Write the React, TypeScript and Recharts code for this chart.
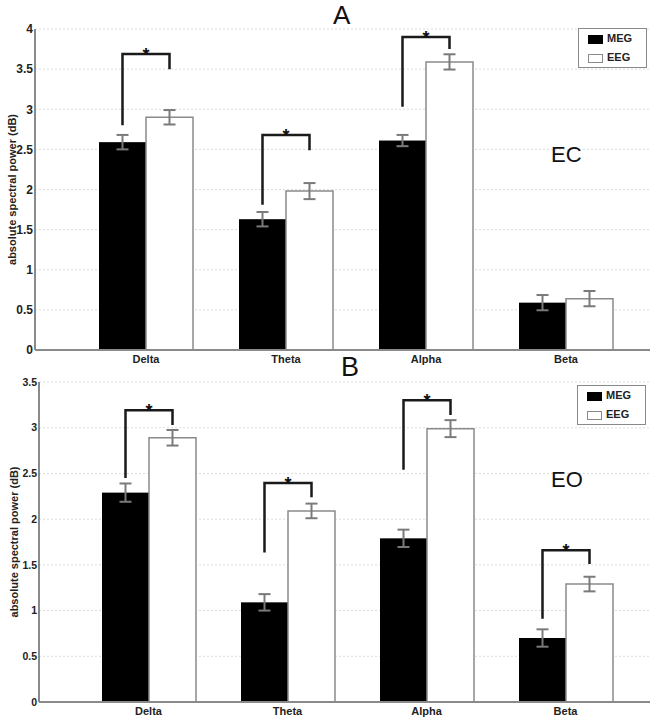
import { BarChart, Bar, XAxis, YAxis, CartesianGrid, ErrorBar, Legend } from 'recharts'

const bands = ['Delta', 'Theta', 'Alpha', 'Beta']
const seriesOrder = ['MEG', 'EEG']

// panel A, eyes closed
const ecMeg = [2.59, 1.63, 2.61, 0.59]
const ecEeg = [2.9, 1.98, 3.59, 0.64]
const ecMegErr = [0.09, 0.09, 0.07, 0.095]
const ecEegErr = [0.09, 0.1, 0.095, 0.095]
const ecSigTop = [3.69, 2.68, 3.9, null]
const ecSigLeft = [2.8, 1.81, 3.03, null]
const ecSigRight = [3.5, 2.49, 3.75, null]
const ecTicks = [0, 0.5, 1, 1.5, 2, 2.5, 3, 3.5, 4]

// panel B, eyes open
const eoMeg = [2.29, 1.09, 1.79, 0.7]
const eoEeg = [2.89, 2.09, 2.99, 1.29]
const eoMegErr = [0.1, 0.09, 0.095, 0.095]
const eoEegErr = [0.085, 0.08, 0.093, 0.08]
const eoSigTop = [3.19, 2.395, 3.3, 1.66]
const eoSigLeft = [2.45, 1.635, 2.54, 0.91]
const eoSigRight = [3.03, 2.24, 3.14, 1.51]
const eoTicks = [0, 0.5, 1, 1.5, 2, 2.5, 3, 3.5]

const FONT = '"Liberation Sans", Arial, sans-serif'
const AXIS_GREY = '#8a8a8a'

type Row = {
  band: string
  meg: number
  eeg: number
  megErr: number
  eegErr: number
  sigTop: number | null
  sigLeft: number | null
  sigRight: number | null
}

function buildRows(
  meg: number[], eeg: number[], megErr: number[], eegErr: number[],
  top: (number | null)[], left: (number | null)[], right: (number | null)[],
): Row[] {
  return bands.map((band, i) => ({
    band,
    meg: meg[i],
    eeg: eeg[i],
    megErr: megErr[i],
    eegErr: eegErr[i],
    sigTop: top[i],
    sigLeft: left[i],
    sigRight: right[i],
  }))
}

const ecData = buildRows(ecMeg, ecEeg, ecMegErr, ecEegErr, ecSigTop, ecSigLeft, ecSigRight)
const eoData = buildRows(eoMeg, eoEeg, eoMegErr, eoEegErr, eoSigTop, eoSigLeft, eoSigRight)

// MEG bar + significance bracket (uses the bar's own pixel scale)
function MegBarShape(props: any) {
  const { x, y, width, height, payload } = props
  const base = y + height
  const perUnit = height / payload.meg
  const toY = (v: number) => base - v * perUnit
  const cx1 = x + width / 2
  const cx2 = x + width * 1.5
  return (
    <g>
      <rect x={x} y={y} width={width} height={height} fill="#000" />
      {payload.sigTop != null && (
        <g>
          <polyline
            points={`${cx1},${toY(payload.sigLeft)} ${cx1},${toY(payload.sigTop)} ${cx2},${toY(payload.sigTop)} ${cx2},${toY(payload.sigRight)}`}
            fill="none"
            stroke="#1a1a1a"
            strokeWidth={2.5}
          />
          <text
            x={(cx1 + cx2) / 2}
            y={toY(payload.sigTop) + 7}
            textAnchor="middle"
            fontSize={18}
            fontWeight="bold"
            fontFamily={FONT}
            fill="#111"
          >
            *
          </text>
        </g>
      )}
    </g>
  )
}

function LegendBox(props: any) {
  const items = [...(props.payload || [])].sort(
    (a: any, b: any) => seriesOrder.indexOf(a.value) - seriesOrder.indexOf(b.value),
  )
  return (
    <div
      style={{
        border: '1px solid #8a8a8a',
        background: '#fff',
        width: 67,
        height: 38,
        boxSizing: 'content-box',
        fontFamily: FONT,
        fontWeight: 'bold',
        fontSize: 11,
        color: '#222',
      }}
    >
      {items.map((entry: any, i: number) => (
        <div key={entry.value} style={{ position: 'relative', height: 20 }}>
          <span
            style={{
              position: 'absolute',
              left: 9,
              top: i === 0 ? 6 : 5,
              width: 13,
              height: 7,
              background: entry.color,
              border: entry.color === '#fff' ? '1px solid #8a8a8a' : '1px solid #000',
            }}
          />
          <span style={{ position: 'absolute', left: 28, top: i === 0 ? 3 : 2 }}>{entry.value}</span>
        </div>
      ))}
    </div>
  )
}

type PanelProps = {
  data: Row[]
  ticks: number[]
  height: number
  marginTop: number
  axisWidth: number
  xAxisHeight: number
  padLeft: number
  padRight: number
  tickFont: number
  labelOffset: number
  legendTop: number
  legendLeft: number
}

function Panel(p: PanelProps) {
  return (
    <BarChart
      width={655}
      height={p.height}
      data={p.data}
      margin={{ top: p.marginTop, right: 5, bottom: 0, left: 0 }}
      barGap={0}
      barSize={47}
      style={{ fontFamily: FONT }}
    >
      <CartesianGrid vertical={false} stroke="#dcdcdc" strokeDasharray="2 2" />
      <XAxis
        dataKey="band"
        height={p.xAxisHeight}
        padding={{ left: p.padLeft, right: p.padRight }}
        tickLine={false}
        tickSize={0}
        tickMargin={5}
        axisLine={{ stroke: AXIS_GREY, strokeWidth: 2 }}
        tick={{ fontSize: 11, fontWeight: 'bold', fill: '#222' }}
      />
      <YAxis
        width={p.axisWidth}
        domain={[0, p.ticks[p.ticks.length - 1]]}
        ticks={p.ticks}
        interval={0}
        tickLine={false}
        tickSize={0}
        tickMargin={2}
        axisLine={{ stroke: AXIS_GREY, strokeWidth: 2 }}
        tick={{ fontSize: p.tickFont, fontWeight: 'bold', fill: '#222' }}
        label={{
          value: 'absolute spectral power (dB)',
          angle: -90,
          position: 'insideLeft',
          offset: p.labelOffset,
          style: { textAnchor: 'middle', fontSize: 11, fontWeight: 'bold', fill: '#222' },
        }}
      />
      <Legend
        layout="vertical"
        align="center"
        verticalAlign="middle"
        content={<LegendBox />}
        wrapperStyle={{ top: p.legendTop, left: p.legendLeft, width: 69, height: 40 }}
      />
      <Bar dataKey="meg" name="MEG" fill="#000" shape={<MegBarShape />} isAnimationActive={false}>
        <ErrorBar dataKey="megErr" width={6} stroke="#7a7a7a" strokeWidth={2} />
      </Bar>
      <Bar dataKey="eeg" name="EEG" fill="#fff" stroke="#8a8a8a" strokeWidth={1.5} isAnimationActive={false}>
        <ErrorBar dataKey="eegErr" width={6} stroke="#7a7a7a" strokeWidth={2} />
      </Bar>
    </BarChart>
  )
}

const titleStyle = {
  position: 'absolute' as const,
  fontFamily: FONT,
  color: '#111',
  lineHeight: 1,
}

export default function App() {
  return (
    <div style={{ position: 'absolute', left: 0, top: 0, width: 655, height: 724, background: '#fff', overflow: 'hidden' }}>
      <div style={{ position: 'absolute', left: 0, top: 0 }}>
        <Panel
          data={ecData}
          ticks={ecTicks}
          height={368}
          marginTop={29}
          axisWidth={35}
          xAxisHeight={18}
          padLeft={41}
          padRight={14}
          tickFont={12}
          labelOffset={12}
          legendTop={28}
          legendLeft={578}
        />
      </div>
      <div style={{ position: 'absolute', left: 0, top: 362 }}>
        <Panel
          data={eoData}
          ticks={eoTicks}
          height={362}
          marginTop={20}
          axisWidth={39}
          xAxisHeight={22}
          padLeft={40}
          padRight={15}
          tickFont={10.5}
          labelOffset={14}
          legendTop={23}
          legendLeft={577}
        />
      </div>
      <div style={{ ...titleStyle, left: 333, top: 2, fontSize: 26 }}>A</div>
      <div style={{ ...titleStyle, left: 341, top: 354, fontSize: 27 }}>B</div>
      <div style={{ ...titleStyle, left: 551, top: 144, fontSize: 22 }}>EC</div>
      <div style={{ ...titleStyle, left: 551, top: 469, fontSize: 22 }}>EO</div>
    </div>
  )
}
